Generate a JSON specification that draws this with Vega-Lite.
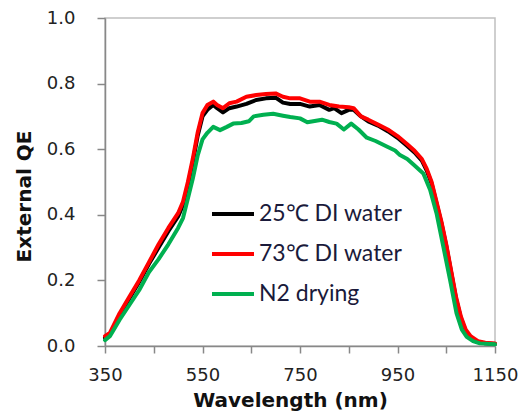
{
  "$schema": "https://vega.github.io/schema/vega-lite/v6.json",
  "width": 390,
  "height": 328,
  "autosize": {"type": "none"},
  "padding": {"left": 105, "top": 18, "right": 33, "bottom": 70},
  "background": "white",
  "config": {
    "view": {"stroke": "#c0c0c0", "strokeWidth": 1.5},
    "font": "DejaVu Sans"
  },
  "datasets": {
    "qe": [
      {"wl": 350, "qe": 0.025, "s": "25℃ DI water"},
      {"wl": 360, "qe": 0.035, "s": "25℃ DI water"},
      {"wl": 380, "qe": 0.095, "s": "25℃ DI water"},
      {"wl": 400, "qe": 0.145, "s": "25℃ DI water"},
      {"wl": 420, "qe": 0.195, "s": "25℃ DI water"},
      {"wl": 440, "qe": 0.25, "s": "25℃ DI water"},
      {"wl": 460, "qe": 0.3, "s": "25℃ DI water"},
      {"wl": 480, "qe": 0.35, "s": "25℃ DI water"},
      {"wl": 500, "qe": 0.395, "s": "25℃ DI water"},
      {"wl": 510, "qe": 0.43, "s": "25℃ DI water"},
      {"wl": 520, "qe": 0.49, "s": "25℃ DI water"},
      {"wl": 530, "qe": 0.56, "s": "25℃ DI water"},
      {"wl": 540, "qe": 0.64, "s": "25℃ DI water"},
      {"wl": 550, "qe": 0.7, "s": "25℃ DI water"},
      {"wl": 560, "qe": 0.72, "s": "25℃ DI water"},
      {"wl": 572, "qe": 0.735, "s": "25℃ DI water"},
      {"wl": 580, "qe": 0.725, "s": "25℃ DI water"},
      {"wl": 592, "qe": 0.712, "s": "25℃ DI water"},
      {"wl": 605, "qe": 0.725, "s": "25℃ DI water"},
      {"wl": 620, "qe": 0.73, "s": "25℃ DI water"},
      {"wl": 640, "qe": 0.738, "s": "25℃ DI water"},
      {"wl": 660, "qe": 0.75, "s": "25℃ DI water"},
      {"wl": 680, "qe": 0.755, "s": "25℃ DI water"},
      {"wl": 700, "qe": 0.757, "s": "25℃ DI water"},
      {"wl": 715, "qe": 0.742, "s": "25℃ DI water"},
      {"wl": 730, "qe": 0.738, "s": "25℃ DI water"},
      {"wl": 750, "qe": 0.738, "s": "25℃ DI water"},
      {"wl": 770, "qe": 0.73, "s": "25℃ DI water"},
      {"wl": 790, "qe": 0.735, "s": "25℃ DI water"},
      {"wl": 810, "qe": 0.72, "s": "25℃ DI water"},
      {"wl": 820, "qe": 0.725, "s": "25℃ DI water"},
      {"wl": 835, "qe": 0.71, "s": "25℃ DI water"},
      {"wl": 850, "qe": 0.72, "s": "25℃ DI water"},
      {"wl": 860, "qe": 0.72, "s": "25℃ DI water"},
      {"wl": 875, "qe": 0.7, "s": "25℃ DI water"},
      {"wl": 890, "qe": 0.685, "s": "25℃ DI water"},
      {"wl": 910, "qe": 0.672, "s": "25℃ DI water"},
      {"wl": 930, "qe": 0.655, "s": "25℃ DI water"},
      {"wl": 950, "qe": 0.635, "s": "25℃ DI water"},
      {"wl": 970, "qe": 0.61, "s": "25℃ DI water"},
      {"wl": 985, "qe": 0.59, "s": "25℃ DI water"},
      {"wl": 1000, "qe": 0.565, "s": "25℃ DI water"},
      {"wl": 1010, "qe": 0.535, "s": "25℃ DI water"},
      {"wl": 1020, "qe": 0.495, "s": "25℃ DI water"},
      {"wl": 1030, "qe": 0.435, "s": "25℃ DI water"},
      {"wl": 1040, "qe": 0.375, "s": "25℃ DI water"},
      {"wl": 1050, "qe": 0.305, "s": "25℃ DI water"},
      {"wl": 1060, "qe": 0.225, "s": "25℃ DI water"},
      {"wl": 1070, "qe": 0.145, "s": "25℃ DI water"},
      {"wl": 1080, "qe": 0.085, "s": "25℃ DI water"},
      {"wl": 1090, "qe": 0.045, "s": "25℃ DI water"},
      {"wl": 1100, "qe": 0.025, "s": "25℃ DI water"},
      {"wl": 1115, "qe": 0.012, "s": "25℃ DI water"},
      {"wl": 1130, "qe": 0.008, "s": "25℃ DI water"},
      {"wl": 1150, "qe": 0.006, "s": "25℃ DI water"},

      {"wl": 350, "qe": 0.03, "s": "73℃ DI water"},
      {"wl": 360, "qe": 0.04, "s": "73℃ DI water"},
      {"wl": 380, "qe": 0.1, "s": "73℃ DI water"},
      {"wl": 400, "qe": 0.15, "s": "73℃ DI water"},
      {"wl": 420, "qe": 0.2, "s": "73℃ DI water"},
      {"wl": 440, "qe": 0.255, "s": "73℃ DI water"},
      {"wl": 460, "qe": 0.31, "s": "73℃ DI water"},
      {"wl": 480, "qe": 0.36, "s": "73℃ DI water"},
      {"wl": 500, "qe": 0.405, "s": "73℃ DI water"},
      {"wl": 510, "qe": 0.44, "s": "73℃ DI water"},
      {"wl": 520, "qe": 0.5, "s": "73℃ DI water"},
      {"wl": 530, "qe": 0.57, "s": "73℃ DI water"},
      {"wl": 540, "qe": 0.65, "s": "73℃ DI water"},
      {"wl": 550, "qe": 0.71, "s": "73℃ DI water"},
      {"wl": 560, "qe": 0.735, "s": "73℃ DI water"},
      {"wl": 572, "qe": 0.745, "s": "73℃ DI water"},
      {"wl": 580, "qe": 0.735, "s": "73℃ DI water"},
      {"wl": 592, "qe": 0.725, "s": "73℃ DI water"},
      {"wl": 605, "qe": 0.74, "s": "73℃ DI water"},
      {"wl": 620, "qe": 0.745, "s": "73℃ DI water"},
      {"wl": 640, "qe": 0.76, "s": "73℃ DI water"},
      {"wl": 660, "qe": 0.765, "s": "73℃ DI water"},
      {"wl": 680, "qe": 0.768, "s": "73℃ DI water"},
      {"wl": 700, "qe": 0.77, "s": "73℃ DI water"},
      {"wl": 715, "qe": 0.76, "s": "73℃ DI water"},
      {"wl": 730, "qe": 0.755, "s": "73℃ DI water"},
      {"wl": 750, "qe": 0.755, "s": "73℃ DI water"},
      {"wl": 770, "qe": 0.745, "s": "73℃ DI water"},
      {"wl": 790, "qe": 0.745, "s": "73℃ DI water"},
      {"wl": 810, "qe": 0.735, "s": "73℃ DI water"},
      {"wl": 830, "qe": 0.73, "s": "73℃ DI water"},
      {"wl": 850, "qe": 0.728, "s": "73℃ DI water"},
      {"wl": 860, "qe": 0.725, "s": "73℃ DI water"},
      {"wl": 875, "qe": 0.7, "s": "73℃ DI water"},
      {"wl": 890, "qe": 0.69, "s": "73℃ DI water"},
      {"wl": 910, "qe": 0.675, "s": "73℃ DI water"},
      {"wl": 930, "qe": 0.66, "s": "73℃ DI water"},
      {"wl": 950, "qe": 0.64, "s": "73℃ DI water"},
      {"wl": 970, "qe": 0.615, "s": "73℃ DI water"},
      {"wl": 985, "qe": 0.595, "s": "73℃ DI water"},
      {"wl": 1000, "qe": 0.57, "s": "73℃ DI water"},
      {"wl": 1010, "qe": 0.54, "s": "73℃ DI water"},
      {"wl": 1020, "qe": 0.5, "s": "73℃ DI water"},
      {"wl": 1030, "qe": 0.44, "s": "73℃ DI water"},
      {"wl": 1040, "qe": 0.38, "s": "73℃ DI water"},
      {"wl": 1050, "qe": 0.31, "s": "73℃ DI water"},
      {"wl": 1060, "qe": 0.23, "s": "73℃ DI water"},
      {"wl": 1070, "qe": 0.15, "s": "73℃ DI water"},
      {"wl": 1080, "qe": 0.09, "s": "73℃ DI water"},
      {"wl": 1090, "qe": 0.05, "s": "73℃ DI water"},
      {"wl": 1100, "qe": 0.03, "s": "73℃ DI water"},
      {"wl": 1115, "qe": 0.015, "s": "73℃ DI water"},
      {"wl": 1130, "qe": 0.01, "s": "73℃ DI water"},
      {"wl": 1150, "qe": 0.008, "s": "73℃ DI water"},

      {"wl": 350, "qe": 0.018, "s": "N2 drying"},
      {"wl": 360, "qe": 0.03, "s": "N2 drying"},
      {"wl": 380, "qe": 0.08, "s": "N2 drying"},
      {"wl": 400, "qe": 0.125, "s": "N2 drying"},
      {"wl": 420, "qe": 0.17, "s": "N2 drying"},
      {"wl": 440, "qe": 0.225, "s": "N2 drying"},
      {"wl": 460, "qe": 0.265, "s": "N2 drying"},
      {"wl": 480, "qe": 0.31, "s": "N2 drying"},
      {"wl": 500, "qe": 0.36, "s": "N2 drying"},
      {"wl": 510, "qe": 0.39, "s": "N2 drying"},
      {"wl": 520, "qe": 0.45, "s": "N2 drying"},
      {"wl": 530, "qe": 0.51, "s": "N2 drying"},
      {"wl": 540, "qe": 0.58, "s": "N2 drying"},
      {"wl": 550, "qe": 0.63, "s": "N2 drying"},
      {"wl": 560, "qe": 0.65, "s": "N2 drying"},
      {"wl": 572, "qe": 0.668, "s": "N2 drying"},
      {"wl": 586, "qe": 0.658, "s": "N2 drying"},
      {"wl": 600, "qe": 0.668, "s": "N2 drying"},
      {"wl": 613, "qe": 0.678, "s": "N2 drying"},
      {"wl": 630, "qe": 0.68, "s": "N2 drying"},
      {"wl": 645, "qe": 0.685, "s": "N2 drying"},
      {"wl": 655, "qe": 0.7, "s": "N2 drying"},
      {"wl": 675, "qe": 0.705, "s": "N2 drying"},
      {"wl": 695, "qe": 0.708, "s": "N2 drying"},
      {"wl": 715, "qe": 0.702, "s": "N2 drying"},
      {"wl": 730, "qe": 0.698, "s": "N2 drying"},
      {"wl": 750, "qe": 0.694, "s": "N2 drying"},
      {"wl": 765, "qe": 0.682, "s": "N2 drying"},
      {"wl": 780, "qe": 0.686, "s": "N2 drying"},
      {"wl": 795, "qe": 0.69, "s": "N2 drying"},
      {"wl": 810, "qe": 0.683, "s": "N2 drying"},
      {"wl": 825, "qe": 0.678, "s": "N2 drying"},
      {"wl": 840, "qe": 0.66, "s": "N2 drying"},
      {"wl": 855, "qe": 0.678, "s": "N2 drying"},
      {"wl": 870, "qe": 0.66, "s": "N2 drying"},
      {"wl": 887, "qe": 0.635, "s": "N2 drying"},
      {"wl": 905, "qe": 0.625, "s": "N2 drying"},
      {"wl": 928, "qe": 0.608, "s": "N2 drying"},
      {"wl": 945, "qe": 0.596, "s": "N2 drying"},
      {"wl": 955, "qe": 0.582, "s": "N2 drying"},
      {"wl": 970, "qe": 0.57, "s": "N2 drying"},
      {"wl": 985, "qe": 0.55, "s": "N2 drying"},
      {"wl": 1003, "qe": 0.526, "s": "N2 drying"},
      {"wl": 1017, "qe": 0.476, "s": "N2 drying"},
      {"wl": 1030, "qe": 0.405, "s": "N2 drying"},
      {"wl": 1044, "qe": 0.303, "s": "N2 drying"},
      {"wl": 1058, "qe": 0.2, "s": "N2 drying"},
      {"wl": 1071, "qe": 0.1, "s": "N2 drying"},
      {"wl": 1082, "qe": 0.05, "s": "N2 drying"},
      {"wl": 1092, "qe": 0.028, "s": "N2 drying"},
      {"wl": 1105, "qe": 0.015, "s": "N2 drying"},
      {"wl": 1119, "qe": 0.008, "s": "N2 drying"},
      {"wl": 1150, "qe": 0.005, "s": "N2 drying"}
    ]
  },
  "data": {"name": "qe"},
  "mark": {"type": "line", "strokeWidth": 4, "strokeJoin": "round", "strokeCap": "round"},
  "encoding": {
    "x": {
      "field": "wl", "type": "quantitative",
      "scale": {"domain": [350, 1150], "nice": false, "zero": false},
      "axis": {
        "title": "Wavelength (nm)",
        "values": [350, 450, 550, 650, 750, 850, 950, 1050, 1150],
        "labelExpr": "(datum.value - 350) % 200 == 0 ? datum.label : ''",
        "format": "d",
        "grid": false,
        "domainColor": "#888888", "domainWidth": 1.5,
        "tickColor": "#888888", "tickWidth": 1.5, "tickSize": 7,
        "labelFont": "DejaVu Sans", "labelFontSize": 18, "labelColor": "#222222",
        "labelPadding": 13, "labelFlush": false, "labelOverlap": false,
        "titleFont": "DejaVu Sans", "titleFontSize": 20, "titleFontWeight": "bold", "titleColor": "#111111",
        "titleX": 185, "titleY": 54, "titleBaseline": "middle"
      }
    },
    "y": {
      "field": "qe", "type": "quantitative",
      "scale": {"domain": [0, 1], "nice": false},
      "axis": {
        "title": "External QE",
        "values": [0, 0.2, 0.4, 0.6, 0.8, 1.0],
        "format": ".1f",
        "grid": false,
        "domainColor": "#888888", "domainWidth": 1.5,
        "tickColor": "#888888", "tickWidth": 1.5, "tickSize": 8,
        "labelFont": "DejaVu Sans", "labelFontSize": 18, "labelColor": "#222222",
        "labelPadding": 22, "labelFlush": false,
        "titleFont": "DejaVu Sans", "titleFontSize": 20, "titleFontWeight": "bold", "titleColor": "#111111",
        "titleX": -81, "titleY": 178, "titleBaseline": "middle", "titleAngle": -90
      }
    },
    "color": {
      "field": "s", "type": "nominal",
      "scale": {"domain": ["25℃ DI water", "73℃ DI water", "N2 drying"], "range": ["#000000", "#ff0000", "#00b050"]},
      "legend": {
        "title": null,
        "orient": "none",
        "legendX": 105,
        "legendY": 173,
        "gridAlign": "all",
        "symbolType": "stroke",
        "symbolSize": 1764,
        "symbolStrokeWidth": 4,
        "labelFont": "Lato",
        "labelFontSize": 23,
        "labelColor": "#1a1a3a",
        "labelOffset": 3,
        "rowPadding": 5,
        "symbolOpacity": 1
      }
    }
  }
}
